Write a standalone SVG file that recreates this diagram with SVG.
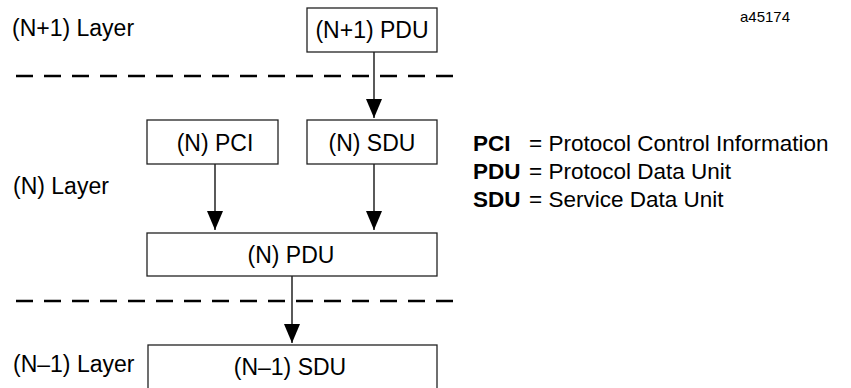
<svg xmlns="http://www.w3.org/2000/svg" width="851" height="388" viewBox="0 0 851 388">
<defs>
<style>
.box{fill:#fff;stroke:#222;stroke-width:1.3}
.t{font-family:"Liberation Sans",Arial,sans-serif;font-size:23px;fill:#000}
.c{text-anchor:middle}
.lg{font-family:"Liberation Sans",Arial,sans-serif;font-size:22.5px;fill:#000}
.b{font-weight:bold}
.dash{stroke:#000;stroke-width:2.6;stroke-dasharray:17 11;fill:none}
.arr{stroke:#000;stroke-width:1.3;fill:none;marker-end:url(#ah)}
</style>
<marker id="ah" markerWidth="19" markerHeight="16" refX="19" refY="8" orient="auto" markerUnits="userSpaceOnUse" viewBox="0 0 19 16">
<path d="M0,0 L19,8 L0,16 Z" fill="#000"/>
</marker>
</defs>
<rect width="851" height="388" fill="#fff"/>
<g id="layers">
<text class="t" x="12" y="36">(N+1) Layer</text>
<text class="t" x="13" y="194">(N) Layer</text>
<text class="t" x="13" y="372">(N–1) Layer</text>
<line class="dash" x1="16" y1="76" x2="456" y2="76"/>
<line class="dash" x1="16" y1="301" x2="456" y2="301"/>
</g>
<g id="connectors">
<path class="arr" d="M374,52 V118"/>
<path class="arr" d="M215,164 V230"/>
<path class="arr" d="M374,164 V230"/>
<path class="arr" d="M292,276 V343"/>
</g>
<g id="n1pdu"><rect class="box" x="307" y="8" width="130" height="44"/><text class="t c" x="372" y="38">(N+1) PDU</text></g>
<g id="npci"><rect class="box" x="147" y="120" width="131" height="44"/><text class="t c" x="215" y="151">(N) PCI</text></g>
<g id="nsdu"><rect class="box" x="307" y="120" width="130" height="44"/><text class="t c" x="372" y="151">(N) SDU</text></g>
<g id="npdu"><rect class="box" x="147" y="233" width="290" height="43"/><text class="t c" x="291" y="263">(N) PDU</text></g>
<g id="nm1sdu"><rect class="box" x="148" y="345" width="289" height="50"/><text class="t c" x="290" y="375">(N–1) SDU</text></g>
<g id="legend">
<text class="lg b" x="473" y="151">PCI</text><text class="lg" x="529" y="151">= Protocol Control Information</text>
<text class="lg b" x="473" y="179">PDU</text><text class="lg" x="529" y="179">= Protocol Data Unit</text>
<text class="lg b" x="473" y="207">SDU</text><text class="lg" x="529" y="207">= Service Data Unit</text>
</g>
<text x="740" y="22" style="font-family:'Liberation Sans',Arial,sans-serif;font-size:15px;fill:#000">a45174</text>
</svg>
